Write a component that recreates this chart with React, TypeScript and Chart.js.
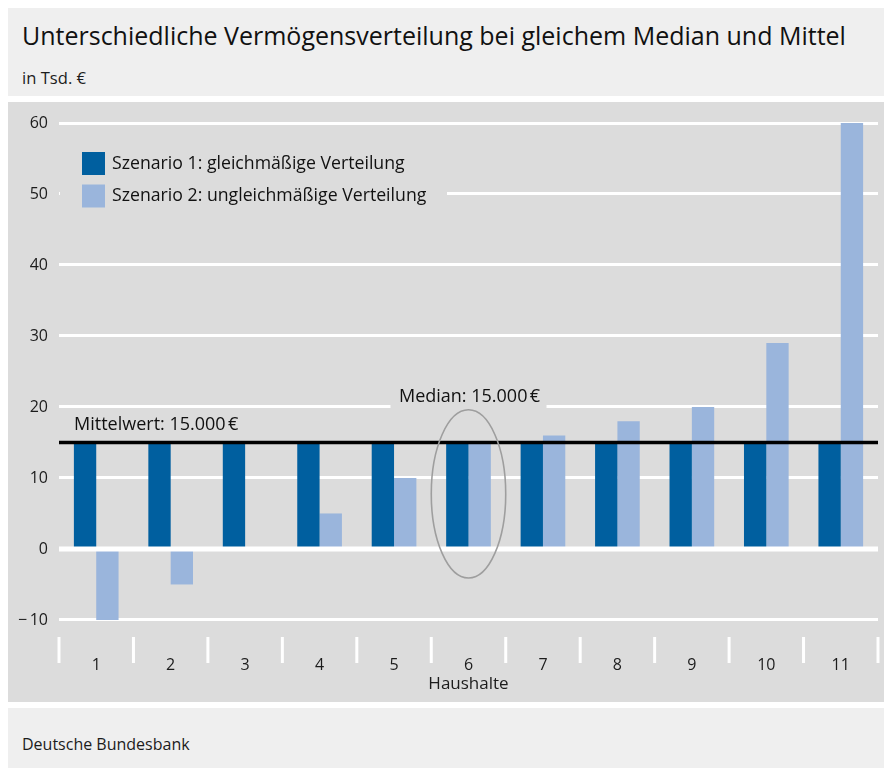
import React, { useEffect, useRef } from "react";
import { Chart, registerables } from "chart.js";

Chart.register(...registerables);

// ---------- data ----------
const CATEGORIES = ["1", "2", "3", "4", "5", "6", "7", "8", "9", "10", "11"];
const SCENARIO_1 = [15, 15, 15, 15, 15, 15, 15, 15, 15, 15, 15];
const SCENARIO_2 = [-10, -5, 0, 5, 10, 15, 16, 18, 20, 29, 60];
const SERIES_LABELS = [
  "Szenario 1: gleichmäßige Verteilung",
  "Szenario 2: ungleichmäßige Verteilung",
];
const Y_TICKS = [-10, 0, 10, 20, 30, 40, 50, 60];
const MEAN_VALUE = 15;
const MEAN_LABEL = "Mittelwert: 15.000\u202F€";
const MEDIAN_INDEX = 5;
const MEDIAN_LABEL = "Median: 15.000\u202F€";
const MEDIAN_LABEL_GRID = 20;
const ELLIPSE_TOP = 19.6;
const ELLIPSE_BOTTOM = -4.1;

const TITLE = "Unterschiedliche Vermögensverteilung bei gleichem Median und Mittel";
const SUBTITLE = "in Tsd. €";
const SOURCE = "Deutsche Bundesbank";
const X_TITLE = "Haushalte";

// ---------- style ----------
const FONT = '"Open Sans", "Noto Sans", sans-serif';
const DARK = "#005f9f";
const LIGHT = "#9ab5dc";
const PLOT_BG = "#dcdcdc";
const PANEL_BG = "#efefef";
const TEXT = "#1c1c1c";

const decorPlugin = {
  id: "decor",
  beforeDatasetsDraw(chart: any) {
    const { ctx, chartArea, scales } = chart;
    const x = scales.x;
    const y = scales.y;
    ctx.save();
    ctx.fillStyle = PLOT_BG;
    // legend backdrop hides gridline
    ctx.fillRect(chartArea.left + 1, y.getPixelForValue(50) - 4, 387, 8);
    // median label backdrop
    const mx = x.getPixelForValue(MEDIAN_INDEX);
    ctx.fillRect(mx - 78, y.getPixelForValue(MEDIAN_LABEL_GRID) - 4, 156, 8);
    ctx.restore();
  },
  afterDatasetsDraw(chart: any) {
    const { ctx, chartArea, scales, data } = chart;
    const x = scales.x;
    const y = scales.y;
    const catW = x.getPixelForValue(1) - x.getPixelForValue(0);
    ctx.save();

    // zero line
    ctx.strokeStyle = "#ffffff";
    ctx.lineWidth = 5;
    ctx.beginPath();
    ctx.moveTo(chartArea.left, y.getPixelForValue(0));
    ctx.lineTo(chartArea.right, y.getPixelForValue(0));
    ctx.stroke();

    // mean line
    const my = y.getPixelForValue(MEAN_VALUE);
    ctx.strokeStyle = "#000000";
    ctx.lineWidth = 3.5;
    ctx.beginPath();
    ctx.moveTo(chartArea.left, my);
    ctx.lineTo(chartArea.right, my);
    ctx.stroke();

    // ellipse around median household
    const mx = x.getPixelForValue(MEDIAN_INDEX);
    const eTop = y.getPixelForValue(ELLIPSE_TOP);
    const eBot = y.getPixelForValue(ELLIPSE_BOTTOM);
    ctx.strokeStyle = "#9e9e9e";
    ctx.lineWidth = 1.6;
    ctx.beginPath();
    ctx.ellipse(mx, (eTop + eBot) / 2, catW * 0.5, (eBot - eTop) / 2, 0, 0, Math.PI * 2);
    ctx.stroke();

    // labels
    ctx.fillStyle = "#111111";
    ctx.font = `18px ${FONT}`;
    ctx.textBaseline = "middle";
    ctx.textAlign = "left";
    ctx.fillText(MEAN_LABEL, chartArea.left + 15, my - 17.5);
    ctx.textAlign = "center";
    ctx.fillText(MEDIAN_LABEL, mx + 1, y.getPixelForValue(MEDIAN_LABEL_GRID) - 10.5);

    // legend
    ctx.font = `17.7px ${FONT}`;
    ctx.textAlign = "left";
    data.datasets.forEach((ds: any, i: number) => {
      const bx = chartArea.left + 23;
      const by = chartArea.top + 29 + i * 32.5;
      ctx.fillStyle = ds.backgroundColor;
      ctx.fillRect(bx, by, 23, 23);
      ctx.fillStyle = "#111111";
      ctx.fillText(ds.label, bx + 30, by + 11.5);
    });

    // category separators below the plot
    ctx.strokeStyle = "#ffffff";
    ctx.lineWidth = 3;
    const left = x.getPixelForValue(0) - catW / 2;
    for (let i = 0; i <= data.labels.length; i++) {
      const px = left + i * catW;
      ctx.beginPath();
      ctx.moveTo(px, chartArea.bottom);
      ctx.lineTo(px, chartArea.bottom + 26);
      ctx.stroke();
    }
    ctx.restore();
  },
};

function BarChart() {
  const ref = useRef<HTMLCanvasElement | null>(null);
  useEffect(() => {
    if (!ref.current) return;
    const chart = new Chart(ref.current, {
      type: "bar",
      data: {
        labels: CATEGORIES,
        datasets: [
          {
            label: SERIES_LABELS[0],
            data: SCENARIO_1,
            backgroundColor: DARK,
            barPercentage: 1,
            categoryPercentage: 0.6,
          },
          {
            label: SERIES_LABELS[1],
            data: SCENARIO_2,
            backgroundColor: LIGHT,
            barPercentage: 1,
            categoryPercentage: 0.6,
          },
        ],
      },
      options: {
        animation: false,
        responsive: false,
        devicePixelRatio: 1,
        layout: { padding: { left: 0, top: 21, right: 6, bottom: 0 } },
        plugins: {
          legend: { display: false },
          tooltip: { enabled: false },
        },
        scales: {
          x: {
            grid: { display: false },
            border: { display: false },
            ticks: { color: TEXT, font: { family: FONT, size: 16 }, padding: 11 },
            title: {
              display: true,
              text: X_TITLE,
              color: TEXT,
              font: { family: FONT, size: 17 },
              padding: { top: 0, bottom: 8 },
            },
            afterFit: (s: any) => {
              s.height = 65;
            },
          },
          y: {
            min: -12.4,
            max: 60,
            afterBuildTicks: (s: any) => {
              s.ticks = Y_TICKS.map((v) => ({ value: v }));
            },
            afterFit: (s: any) => {
              s.width = 51;
            },
            grid: { color: "#ffffff", lineWidth: 3, drawTicks: false },
            border: { display: false },
            ticks: {
              color: TEXT,
              font: { family: FONT, size: 16 },
              padding: 11,
              callback: (v: any) => (v < 0 ? `\u2212\u2009${Math.abs(v)}` : `${v}`),
            },
          },
        },
      },
      plugins: [decorPlugin],
    } as any);
    return () => chart.destroy();
  }, []);
  return <canvas ref={ref} width={876} height={600} style={{ display: "block" }} />;
}

export default function App() {
  const panel: React.CSSProperties = {
    position: "absolute",
    left: 0,
    width: "100%",
    fontFamily: FONT,
    color: TEXT,
  };
  return (
    <div
      style={{
        position: "absolute",
        left: 8,
        top: 8,
        width: "calc(100vw - 8px)",
        height: 760,
        overflow: "hidden",
      }}
    >
      <div style={{ ...panel, top: 0, height: 88, background: PANEL_BG }}>
        <div style={{ position: "absolute", left: 14, top: 12, fontSize: 25, lineHeight: "30px", color: "#111", whiteSpace: "nowrap" }}>
          {TITLE}
        </div>
        <div style={{ position: "absolute", left: 14, top: 60, fontSize: 16.6, lineHeight: "20px" }}>{SUBTITLE}</div>
      </div>
      <div style={{ ...panel, top: 94, height: 600, background: PLOT_BG }}>
        <BarChart />
      </div>
      <div style={{ ...panel, top: 700, height: 60, background: PANEL_BG }}>
        <div style={{ position: "absolute", left: 14, top: 26, fontSize: 16, lineHeight: "20px" }}>{SOURCE}</div>
      </div>
    </div>
  );
}
